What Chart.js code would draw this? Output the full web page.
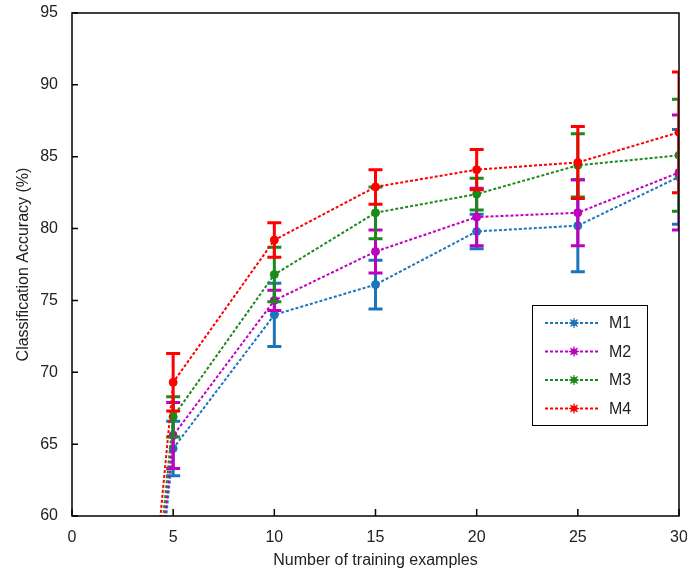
<!DOCTYPE html>
<html>
<head>
<meta charset="utf-8">
<script src="https://cdn.jsdelivr.net/npm/chart.js@4"></script>
<style>
  html, body { margin: 0; padding: 0; background: #fff; }
  #wrap { width: 687px; height: 577px; position: relative; }
</style>
</head>
<body>
<div id="wrap"><canvas id="c" width="687" height="577"></canvas></div>
<script>
// ---- data ----
const trainingExamples = [1, 5, 10, 15, 20, 25, 30];
const seriesNames = ['M1', 'M2', 'M3', 'M4'];
const m1Acc = [10, 64.7, 74.0, 76.1, 79.8, 80.2, 83.6];
const m2Acc = [10, 65.6, 75.0, 78.4, 80.8, 81.1, 83.9];
const m3Acc = [10, 66.9, 76.8, 81.1, 82.4, 84.4, 85.1];
const m4Acc = [10, 69.3, 79.2, 82.9, 84.1, 84.6, 86.7];
const m1Err = [0, 1.9, 2.2, 1.7, 1.2, 3.2, 3.3];
const m2Err = [0, 2.3, 0.7, 1.5, 2.0, 2.3, 4.0];
const m3Err = [0, 1.4, 1.9, 1.8, 1.1, 2.2, 3.9];
const m4Err = [0, 2.0, 1.2, 1.2, 1.4, 2.5, 4.2];
const xTicks = [0, 5, 10, 15, 20, 25, 30];
const yTicks = [60, 65, 70, 75, 80, 85, 90, 95];

const colors = ['#1b75bb', '#bf00bf', '#1a8a1a', '#ff0000'];
const accs = [m1Acc, m2Acc, m3Acc, m4Acc];
const errs = [m1Err, m2Err, m3Err, m4Err];

const FONT = "Arial, 'Liberation Sans', sans-serif";
const TXT = '#222';

const datasets = seriesNames.map((name, i) => ({
  label: name,
  data: trainingExamples.map((x, j) => ({ x: x, y: accs[i][j] })),
  err: errs[i],
  borderColor: colors[i],
  backgroundColor: colors[i],
  borderWidth: 2,
  borderDash: [3, 2],
  pointRadius: 4,
  pointBorderWidth: 1,
  pointStyle: 'circle',
  tension: 0,
  order: 3 - i
}));

const errorBars = {
  id: 'errorBars',
  beforeDatasetDraw(chart, args) {
    const ds = chart.data.datasets[args.index];
    const xs = chart.scales.x, ys = chart.scales.y, ctx = chart.ctx;
    const a = chart.chartArea;
    ctx.save();
    ctx.beginPath();
    ctx.rect(a.left, a.top, a.right - a.left, a.bottom - a.top);
    ctx.clip();
    ctx.strokeStyle = ds.borderColor;
    ctx.lineWidth = 3;
    ctx.setLineDash([]);
    ds.data.forEach((p, j) => {
      const e = ds.err[j];
      if (!e) return;
      const x = xs.getPixelForValue(p.x);
      const y1 = ys.getPixelForValue(p.y - e);
      const y2 = ys.getPixelForValue(p.y + e);
      ctx.beginPath();
      ctx.moveTo(x, y1); ctx.lineTo(x, y2);
      ctx.moveTo(x - 7, y1); ctx.lineTo(x + 7, y1);
      ctx.moveTo(x - 7, y2); ctx.lineTo(x + 7, y2);
      ctx.stroke();
    });
    ctx.restore();
  }
};

const frameAndLegend = {
  id: 'frameAndLegend',
  afterDraw(chart) {
    const ctx = chart.ctx, a = chart.chartArea;
    const xs = chart.scales.x, ys = chart.scales.y;
    ctx.save();
    ctx.setLineDash([]);
    ctx.strokeStyle = '#000';
    ctx.lineWidth = 1.5;
    ctx.strokeRect(a.left, a.top, a.right - a.left, a.bottom - a.top);
    ctx.beginPath();
    yTicks.forEach(v => {
      const y = ys.getPixelForValue(v);
      ctx.moveTo(a.left, y); ctx.lineTo(a.left + 6, y);
    });
    xTicks.forEach(v => {
      const x = xs.getPixelForValue(v);
      ctx.moveTo(x, a.bottom); ctx.lineTo(x, a.bottom - 7);
    });
    ctx.stroke();

    // legend box
    const bx = 532, by = 305, bw = 115, bh = 120;
    ctx.fillStyle = '#fff';
    ctx.fillRect(bx, by, bw, bh);
    ctx.strokeStyle = '#000';
    ctx.lineWidth = 1;
    ctx.strokeRect(bx + 0.5, by + 0.5, bw, bh);
    ctx.font = '16px ' + FONT;
    ctx.textBaseline = 'middle';
    ctx.textAlign = 'left';
    seriesNames.forEach((name, i) => {
      const y = by + 18 + i * 28.5;
      ctx.strokeStyle = colors[i];
      ctx.lineWidth = 2;
      ctx.setLineDash([3, 2]);
      ctx.beginPath();
      ctx.moveTo(bx + 13, y); ctx.lineTo(bx + 68, y);
      ctx.stroke();
      ctx.setLineDash([]);
      ctx.fillStyle = colors[i];
      ctx.beginPath();
      ctx.arc(bx + 42, y, 3, 0, Math.PI * 2);
      ctx.fill();
      ctx.lineWidth = 1.2;
      ctx.beginPath();
      for (let k = 0; k < 4; k++) {
        const ang = k * Math.PI / 4;
        ctx.moveTo(bx + 42 - 5 * Math.cos(ang), y - 5 * Math.sin(ang));
        ctx.lineTo(bx + 42 + 5 * Math.cos(ang), y + 5 * Math.sin(ang));
      }
      ctx.stroke();
      ctx.fillStyle = TXT;
      ctx.fillText(name, bx + 77, y + 1);
    });
    ctx.restore();
  }
};

new Chart(document.getElementById('c'), {
  type: 'line',
  data: { datasets: datasets },
  plugins: [errorBars, frameAndLegend],
  options: {
    responsive: false,
    animation: false,
    layout: { padding: { top: 13, right: 8, left: 0, bottom: 0 } },
    plugins: { legend: { display: false }, tooltip: { enabled: false } },
    scales: {
      x: {
        type: 'linear',
        min: 0, max: 30,
        afterBuildTicks(scale) { scale.ticks = xTicks.map(v => ({ value: v })); },
        afterFit(scale) { scale.height = 61; scale.paddingRight = 0; scale.paddingLeft = 0; },
        grid: { display: false },
        border: { display: false },
        ticks: { color: TXT, font: { size: 16, family: FONT }, padding: 4, maxRotation: 0, autoSkip: false },
        title: { display: true, text: 'Number of training examples', color: TXT, font: { size: 16, family: FONT }, padding: { top: 0, bottom: 7 } }
      },
      y: {
        type: 'linear',
        min: 60, max: 95,
        afterBuildTicks(scale) { scale.ticks = yTicks.map(v => ({ value: v })); },
        afterFit(scale) { scale.width = 72; scale.paddingTop = 0; scale.paddingBottom = 0; },
        grid: { display: false },
        border: { display: false },
        ticks: { color: TXT, font: { size: 16, family: FONT }, padding: 6, autoSkip: false },
        title: { display: true, text: 'Classification Accuracy (%)', color: TXT, font: { size: 16, family: FONT }, padding: { top: 14, bottom: 0 } }
      }
    }
  }
});
</script>
</body>
</html>
